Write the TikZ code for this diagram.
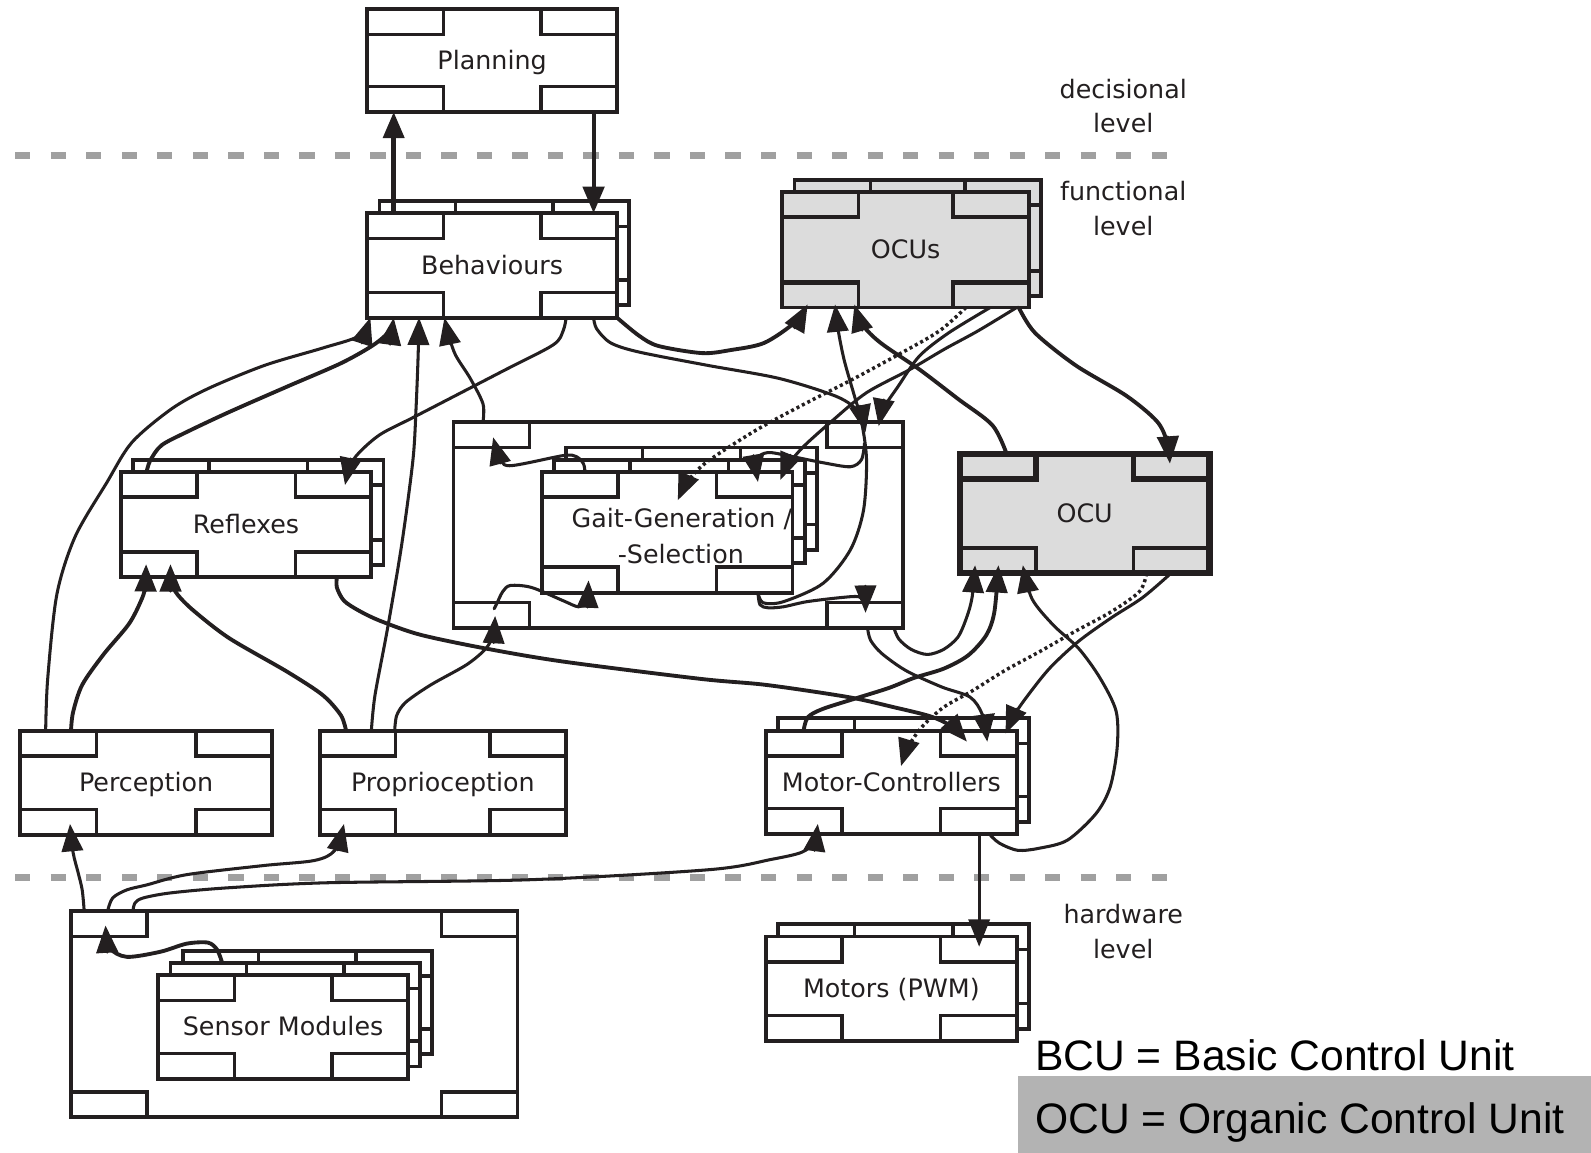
\documentclass[tikz,border=0pt]{standalone}
\usepackage{fontspec}
\setmainfont{DejaVu Sans}
\newfontfamily\legendfont{Liberation Sans}
\usetikzlibrary{arrows.meta,calc}
\definecolor{ink}{HTML}{231F20}
\definecolor{ocugray}{HTML}{DCDCDC}
\definecolor{dashgray}{HTML}{A0A0A0}
\definecolor{leggray}{HTML}{B3B3B3}
\tikzset{
 ubox/.style={draw=ink, line width=3.8pt, fill=white, rectangle, inner sep=0pt, outer sep=0pt,
   font=\fontsize{25}{28}\selectfont, text=ink, text height=22pt, text depth=4pt},
 tab/.style={draw=ink, line width=3.4pt},
 conn/.style={draw=ink, line width=3pt, line join=round, line cap=round, -{Triangle[length=27pt,width=21pt]}},
 thickconn/.style={conn, line width=3.8pt},
 dotconn/.style={conn, line cap=butt, dash pattern=on 3pt off 3pt, line width=3.4pt},
 lvl/.style={font=\fontsize{25}{28}\selectfont, text=ink, anchor=base, inner sep=0pt},
 sepline/.style={draw=dashgray, line width=7pt, dash pattern=on 15pt off 20pt},
 legend/.style={font=\legendfont\fontsize{42}{48}\selectfont, text=black, anchor=base west, inner sep=0pt},
}
% #1 options, #2 name, #3 x, #4 y, #5 w, #6 h, #7 text
\newcommand\unitbox[7][]{%
 \node[ubox,#1,minimum width=#5pt,minimum height=#6pt,anchor=north west] (#2) at (#3,#4) {#7};
 \draw[tab] (#2.north west) rectangle ++(75,25);
 \draw[tab] (#2.north east) rectangle ++(-75,25);
 \draw[tab] (#2.south west) rectangle ++(75,-25);
 \draw[tab] (#2.south east) rectangle ++(-75,-25);
}
\begin{document}
\begin{tikzpicture}[x=1pt,y=-1pt]
\useasboundingbox (0,0) rectangle (1568,1136);
% level separators
\draw[sepline] (15,153) -- (1150,153);
\draw[sepline] (15,865) -- (1150,865);
% level labels
\node[lvl] (lv1a) at (1107,97) {decisional};
\node[lvl] (lv1b) at (1107,131) {level};
\node[lvl] (lv2a) at (1107,198) {functional};
\node[lvl] (lv2b) at (1107,232) {level};
\node[lvl] (lv3a) at (1107,910) {hardware};
\node[lvl] (lv3b) at (1107,945) {level};
% boxes
\unitbox{plan}{362}{9}{246}{101}{Planning}
\unitbox{behS}{374}{198}{246}{103}{}
\unitbox{beh}{362}{210}{246}{103}{Behaviours}
\unitbox[fill=ocugray]{ocusS}{783}{177}{243}{115}{}
\unitbox[fill=ocugray]{ocus}{771}{189}{243}{114}{OCUs}
\draw[ink, line width=5pt] ($(ocus.south west)+(0,-25)$) -- ++(75,0);
\draw[ink, line width=5pt] ($(ocus.south east)+(0,-25)$) -- ++(-75,0);
\unitbox{reflS}{131}{453}{247}{104}{}
\unitbox{refl}{119}{465}{247}{104}{Reflexes}
\unitbox{gaitO}{447}{416}{443}{203}{}
\unitbox{gaitI2}{558}{441}{247}{101}{}
\unitbox{gaitI1}{546}{453}{247}{102}{}
\unitbox{gaitI}{534}{465}{247}{119}{}
\node[lvl] (gaitT1) at (672,520) {Gait-Generation /};
\node[lvl] (gaitT2) at (671,555) {-Selection};
\unitbox[fill=ocugray, line width=6pt]{ocu}{946}{447}{246}{118}{OCU}
\draw[ink, line width=5.5pt] (ocu.north west) rectangle ++(75,25);
\draw[ink, line width=5.5pt] (ocu.north east) rectangle ++(-75,25);
\draw[ink, line width=4.5pt] (ocu.south west) rectangle ++(75,-25);
\unitbox{perc}{20}{720}{248}{103}{Perception}
\unitbox{prop}{315}{720}{243}{103}{Proprioception}
\unitbox{mcS}{767}{708}{247}{102}{}
\unitbox{mc}{755}{720}{247}{102}{Motor-Controllers}
\unitbox{sensO}{70}{898}{440}{203}{}
\unitbox{sensI2}{180}{937}{246}{102}{}
\unitbox{sensI1}{168}{949}{246}{102}{}
\unitbox{sensI}{156}{961}{246}{102}{Sensor Modules}
\unitbox{motS}{767}{911}{247}{103}{}
\unitbox{mot}{755}{923}{247}{103}{Motors (PWM)}
% Planning <-> Behaviours
\draw[conn, line width=5.5pt, line cap=butt, -{Triangle[length=26pt,width=20pt]}] ($(beh.north west)+(26,0)$) -- ($(plan.south west)+(26,0)$);
\draw[conn, line width=3.8pt, line cap=butt, -{Triangle[length=26pt,width=21pt]}] ($(plan.south west)+(223,0)$) -- ($(beh.north west)+(223,0)$);
% into Behaviours
\draw[conn] plot[smooth, tension=0.5] coordinates {($(perc.north west)+(25,0)$) (47,669) (56,586) (74,529) (105,476) (130,436) (169,403) (205,383) (261,360) (318,343) (354,331) ($(beh.south west)+(3,0)$)};
\draw[thickconn] plot[smooth, tension=0.5] coordinates {($(refl.north west)+(25.5,0)$) (148,454) (159,439) (183.5,426) (226,406) (283,381) (336,358) (368,340) (384,326) ($(beh.south west)+(26,0)$)};
\draw[conn] plot[smooth, tension=0.5] coordinates {($(prop.north west)+(51,0)$) (369.6,685) (382,619) (396,536) (407,453) (410,403) (412,353) ($(beh.south west)+(51,0)$)};
\draw[conn] plot[smooth, tension=0.5] coordinates {($(gaitO.north west)+(29,0)$) (476,398) (463.5,373) (449,350) (442,330) ($(beh.south west)+(76,0)$)};
% out of Behaviours
\draw[conn] plot[smooth, tension=0.5] coordinates {($(beh.south west)+(196,0)$) (555,326) (545,340) (495,366) (410,410) (375,428) (354,446) (345,459) ($(refl.north west)+(221,13)$)};
\draw[conn] plot[smooth, tension=0.5] coordinates {($(beh.south west)+(223,0)$) (588,324) (602,338) (630,347) (697,360) (768,373) (825,391) (846,406) ($(gaitO.north west)+(406,10)$)};
\draw[thickconn] plot[smooth, tension=0.5] coordinates {(beh.south east) (630,331) (649,341) (692,348) (720,345) (753,338) (783,318) ($(ocus.south west)+(25,-3)$)};
% into OCUs
\draw[conn] plot[smooth, tension=0.5] coordinates {($(gaitI.south west)+(213,0)$) (752,594) (772,593) (811,575) (838,542) (851,503) (854,453) (849,415) (842,390) (832,355) (826,325) ($(ocus.south west)+(52,-3)$)};
\draw[thickconn] plot[smooth, tension=0.5] coordinates {($(ocu.north west)+(46,0)$) (978,419) (944,393) (906,364) (868,338) (850,320) ($(ocus.south west)+(71,-3)$)};
% out of OCUs
\draw[thickconn] plot[smooth, tension=0.5] coordinates {($(ocus.south east)+(-10,0)$) (1020,328) (1060,360) (1110,390) (1140,415) (1150,435) ($(ocu.north west)+(207,10)$)};
\draw[conn] plot[smooth, tension=0.5] coordinates {($(ocus.south west)+(205,0)$) (935,328) (906,351) (885,381) (871,402) ($(gaitO.north west)+(419,4)$)};
\draw[conn] plot[smooth, tension=0.5] coordinates {($(ocus.south west)+(231,0)$) (964,326) (931,344) (897,364) (854,387) (821,414) (792,440) (776,459) ($(gaitI.north west)+(235,8)$)};
\draw[dotconn] plot[smooth, tension=0.5] coordinates {($(ocus.south west)+(181,0)$) (926,326) (888,348) (840,374) (793,398) (745,424) (697,455) (678,474) ($(gaitI.north west)+(134,28)$)};
% inside Gait-Generation
\draw[conn] plot[smooth, tension=0.5] coordinates {($(gaitI.north west)+(42.5,0)$) (575,457) (568,450) (555,449) (502,459) (492,449) ($(gaitO.north west)+(39,15)$)};
\draw[conn] plot[smooth, tension=0.5] coordinates {($(gaitO.north west)+(405,21)$) (849,453) (838,460) (811,456) (781,450) (759,446) (749,449) (745,458) ($(gaitI.north west)+(213,10)$)};
\draw[conn] plot[smooth, tension=0.5] coordinates {($(gaitO.south west)+(40,-19)$) (490,594) (495.5,583) (503,577) (524,579) (555,592) (570,598) (578,593) ($(gaitI.south west)+(46,-12)$)};
\draw[conn] plot[smooth, tension=0.5] coordinates {($(gaitI.south west)+(213,0)$) (749,596) (757,599) (772,598) (795,593) (828,589) (846,588) (852,593) ($(gaitO.south west)+(406,-15)$)};
% Reflexes -> Motor-Controllers
\draw[thickconn] plot[smooth, tension=0.5] coordinates {($(refl.south west)+(213,0)$) (332,579) (339,592) (354,602) (375,612) (414,625.5) (478,639) (555,652) (690,669) (755,675) (836,687) (881,697) (917,706) (938,716) ($(mc.north west)+(198,11)$)};
% Gait outer -> Motor-Controllers / OCU
\draw[conn] plot[smooth, tension=0.5] coordinates {($(gaitO.south west)+(408,0)$) (858,631) (869,644) (893,661) (928,677) (956,687) (968,704) ($(mc.north west)+(218,11)$)};
\draw[conn] plot[smooth, tension=0.5] coordinates {($(gaitO.south west)+(434,0)$) (886,630) (898,640) (914,645) (930,640) (944,628) (952.5,609) (958,589) ($(ocu.south west)+(15,-8)$)};
% Motor-Controllers -> OCU
\draw[thickconn] plot[smooth, tension=0.5] coordinates {($(mc.north west)+(37,0)$) (796,707) (810,699) (841,689) (876,678) (901,668) (930,659) (954,646) (972,626) (980,603) ($(ocu.south west)+(38,-8)$)};
\draw[conn] plot[smooth, tension=0.5] coordinates {($(mc.south west)+(220,0)$) (985,831) (1003,838) (1024,836) (1052,828) (1080,802) (1094,776) (1101,737) (1100,701) (1084,668) (1063,639) (1038,616) (1017,590) ($(ocu.south west)+(62,-8)$)};
% OCU -> Motor-Controllers
\draw[conn] plot[smooth, tension=0.5] coordinates {($(ocu.south west)+(208,0)$) (1126,589) (1095,609) (1063,632) (1035,658) (1014,684) (1000,704) ($(mc.north west)+(236,3)$)};
\draw[dotconn] plot[smooth, tension=0.5] coordinates {($(ocu.south west)+(184,0)$) (1123,583) (1095,603) (1060,622) (1025,642) (990,661) (958,681) (930,697) (909,716) (895,736) ($(mc.north west)+(133,35)$)};
% Motor-Controllers -> Motors
\draw[conn, line width=2.8pt] ($(mc.south west)+(210,0)$) -- ($(mot.north west)+(210,10)$);
% Sensor modules
\draw[conn] plot[smooth, tension=0.5] coordinates {($(sensO.north west)+(13,0)$) (81,877) (77,860) (72,840) ($(perc.south west)+(49,-11)$)};
\draw[conn] plot[smooth, tension=0.5] coordinates {($(sensO.north west)+(36,0)$) (111,885) (125,877) (145,872) (184,862) (260,853) (310,848) (330,838) ($(prop.south west)+(24,-11)$)};
\draw[conn] plot[smooth, tension=0.5] coordinates {($(sensO.north west)+(61,0)$) (133,890) (141,885) (168,880) (224,875) (322,870) (522,867) (700,857) (760,847) (790,840) (802,830) ($(mc.south west)+(51,-10)$)};
\draw[thickconn] plot[smooth, tension=0.5] coordinates {($(sensI1.north west)+(51,0)$) (214,936) (205,929) (184,930) (158,938) (125,943) (108,934) ($(sensO.north west)+(34,14)$)};
% Perception / Proprioception upward
\draw[thickconn] plot[smooth, tension=0.5] coordinates {($(perc.north west)+(50,0)$) (72,702) (81,675) (102,645) (127,615) (139,592) (143,579) ($(refl.south west)+(25,-13)$)};
\draw[thickconn] plot[smooth, tension=0.5] coordinates {($(prop.north west)+(26,0)$) (336,705) (318,685) (283,662) (226,629) (191,602) (175,586) (169,574) ($(refl.south west)+(49,-13)$)};
\draw[conn] plot[smooth, tension=0.5] coordinates {($(prop.north west)+(74,0)$) (391,705) (400,692) (424.5,675) (460,655) (479,639) (486,625) ($(gaitO.south west)+(41,-12)$)};
% legend
\node[legend] (bcu) at (1020,1055) {BCU = Basic Control Unit};
\fill[leggray] (1003,1060) rectangle (1568,1136);
\node[legend] (oculeg) at (1020,1117) {OCU = Organic Control Unit};
\end{tikzpicture}
\end{document}
